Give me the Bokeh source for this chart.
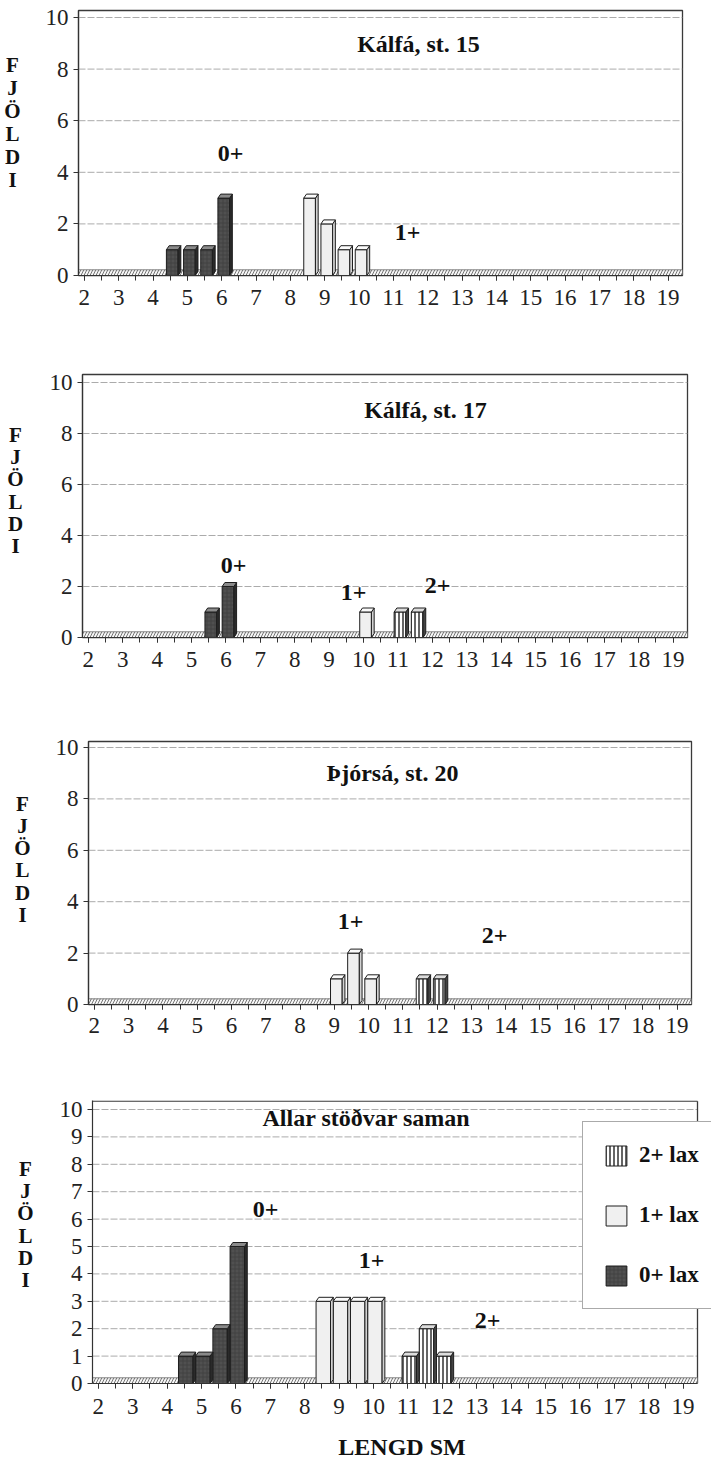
import numpy as np
from bokeh.plotting import figure
from bokeh.models import Range1d, FixedTicker, Label, Legend, LegendItem
from bokeh.layouts import column, row
from bokeh.embed import file_html
from bokeh.resources import INLINE
from bokeh.core.properties import value

# ---------------- data ----------------
x_tick_values = list(range(2, 20))
x_tick_labels = [str(v) for v in x_tick_values]
x_minor_values = [2 + 0.5 * i for i in range(35)]
y_ticks_station = [0, 2, 4, 6, 8, 10]
y_ticks_all = [0, 1, 2, 3, 4, 5, 6, 7, 8, 9, 10]

# Kálfá, st. 15
st15_len_0 = [4.5, 5.0, 5.5, 6.0]
st15_cnt_0 = [1, 1, 1, 3]
st15_len_1 = [8.5, 9.0, 9.5, 10.0]
st15_cnt_1 = [3, 2, 1, 1]
st15_len_2 = []
st15_cnt_2 = []

# Kálfá, st. 17
st17_len_0 = [5.5, 6.0]
st17_cnt_0 = [1, 2]
st17_len_1 = [10.0]
st17_cnt_1 = [1]
st17_len_2 = [11.0, 11.5]
st17_cnt_2 = [1, 1]

# Þjórsá, st. 20
st20_len_0 = []
st20_cnt_0 = []
st20_len_1 = [9.0, 9.5, 10.0]
st20_cnt_1 = [1, 2, 1]
st20_len_2 = [11.5, 12.0]
st20_cnt_2 = [1, 1]

# Allar stöðvar saman
all_len_0 = [4.5, 5.0, 5.5, 6.0]
all_cnt_0 = [1, 1, 2, 5]
all_len_1 = [8.5, 9.0, 9.5, 10.0]
all_cnt_1 = [3, 3, 3, 3]
all_len_2 = [11.0, 11.5, 12.0]
all_cnt_2 = [1, 2, 1]

titles = ["Kálfá, st. 15", "Kálfá,  st. 17", "Þjórsá,  st. 20", "Allar stöðvar saman"]
legend_labels = ["2+ lax", "1+ lax", "0+ lax"]
y_letters = ["F", "J", "Ö", "L", "D", "I"]
x_title = "LENGD SM"

# ---------------- layout / style ----------------
FONT = "Liberation Serif"
X0, X1 = 1.83, 19.42
PAGE_W = 711
LW = 36  # width of the strip holding the stacked y label

STYLE = {
    0: dict(front="#505050", side="#2a2a2a", top="#8a8a8a", hatch="+", hatch_color="#3c3c3c"),
    1: dict(front="#f0f0f0", side="#d2d2d2", top="#fbfbfb", hatch=None, hatch_color=None),
    2: dict(front="#ffffff", side="#444444", top="#dddddd", hatch="|", hatch_color="#111111"),
}

panels = [
    dict(fig_top=8, height=350, left=86, right=690, ftop=18, y0=283, y10=25,
         ticks=y_ticks_station,
         data=[(st15_len_0, st15_cnt_0), (st15_len_1, st15_cnt_1), (st15_len_2, st15_cnt_2)],
         title=titles[0], title_pos=(426, 51),
         ages=[("0+", 238, 161), ("1+", 415, 240)],
         letters_x=20, letters_y=(80, 232), fw=0.34, off=0.06, standoff=9),
    dict(fig_top=358, height=364, left=90, right=695, ftop=382, y0=645, y10=390,
         ticks=y_ticks_station,
         data=[(st17_len_0, st17_cnt_0), (st17_len_1, st17_cnt_1), (st17_len_2, st17_cnt_2)],
         title=titles[1], title_pos=(436, 417),
         ages=[("0+", 241, 573), ("1+", 361, 600), ("2+", 445, 593)],
         letters_x=23, letters_y=(442, 595), fw=0.34, off=0.06, standoff=9),
    dict(fig_top=722, height=364, left=96, right=699, ftop=749, y0=1012, y10=755,
         ticks=y_ticks_station,
         data=[(st20_len_0, st20_cnt_0), (st20_len_1, st20_cnt_1), (st20_len_2, st20_cnt_2)],
         title=titles[2], title_pos=(403, 780),
         ages=[("1+", 358, 929), ("2+", 502, 943)],
         letters_x=30, letters_y=(808, 962), fw=0.34, off=0.06, standoff=8),
    dict(fig_top=1086, height=388, left=100, right=705, ftop=1108, y0=1391, y10=1117,
         ticks=y_ticks_all,
         data=[(all_len_0, all_cnt_0), (all_len_1, all_cnt_1), (all_len_2, all_cnt_2)],
         title=titles[3], title_pos=(374, 1125),
         ages=[("0+", 273, 1217), ("1+", 379, 1268), ("2+", 495, 1328)],
         letters_x=33, letters_y=(1180, 1332), fw=0.42, off=0.04, standoff=10,
         legend=True),
]


def letters_fig(g):
    lf = figure(width=LW, height=g["height"], output_backend="svg", toolbar_location=None,
                x_range=Range1d(8, 8 + LW),
                y_range=Range1d(g["fig_top"] + g["height"], g["fig_top"]),
                x_axis_location=None, y_axis_location=None, min_border=0)
    lf.outline_line_color = None
    lf.background_fill_color = "white"
    lf.border_fill_color = "white"
    lf.xgrid.visible = False
    lf.ygrid.visible = False
    ly0, ly1 = g["letters_y"]
    step = (ly1 - ly0) / (len(y_letters) - 1)
    ys = [ly0 + step * i for i in range(len(y_letters))]
    lf.text(x=[g["letters_x"]] * len(y_letters), y=ys, text=y_letters,
            text_font=value(FONT), text_font_style="bold", text_font_size="21px",
            text_align="center", text_baseline="middle", text_color="#111111")
    return lf


def make_panel(g):
    unit = (g["y0"] - g["y10"]) / 10.0
    y_end = (g["y0"] - g["ftop"]) / unit
    fig_bottom = g["fig_top"] + g["height"]
    pxu = (g["right"] - g["left"]) / (X1 - X0)
    extend = g.get("legend", False)
    frame_right = 8 + PAGE_W if extend else g["right"]
    x_end = X1 + (frame_right - g["right"]) / pxu
    p = figure(width=PAGE_W - LW, height=g["height"], output_backend="svg", toolbar_location=None,
               x_range=Range1d(X0, x_end), y_range=Range1d(0, y_end),
               min_border_left=g["left"] - 8 - LW, min_border_right=8 + PAGE_W - frame_right,
               min_border_top=g["ftop"] - g["fig_top"], min_border_bottom=fig_bottom - g["y0"])
    p.background_fill_color = "white"
    p.border_fill_color = "white"
    p.xgrid.visible = False
    p.ygrid.visible = False

    def px2x(px):
        return X0 + (px - g["left"]) / pxu

    def px2y(py):
        return (g["y0"] - py) / unit

    # grid lines (drawn as glyphs so they stop at the back wall)
    gy = [t for t in g["ticks"] if t > 0]
    p.segment(x0=[X0] * len(gy), x1=[X1] * len(gy), y0=gy, y1=gy,
              line_color="#ababab", line_dash="7 2", line_width=1)

    # frame (back wall) edges
    if extend:
        p.outline_line_color = None
        top_y = y_end - 0.7 / unit
        p.segment(x0=[X0, X1], x1=[X1, X1], y0=[top_y, 0], y1=[top_y, top_y],
                  line_color="#3a3a3a", line_width=1.3)
    else:
        p.outline_line_color = "#3a3a3a"
        p.outline_line_width = 1.3

    # axes
    xa = p.xaxis[0]
    xa.ticker = FixedTicker(ticks=x_tick_values, minor_ticks=x_minor_values)
    xa.major_label_overrides = {v: s for v, s in zip(x_tick_values, x_tick_labels)}
    xa.bounds = (X0, X1)
    ya = p.yaxis[0]
    ya.ticker = FixedTicker(ticks=g["ticks"], minor_ticks=[])
    for ax in (xa, ya):
        ax.axis_line_color = "#333333"
        ax.axis_line_width = 1.2
        ax.major_tick_line_color = "#333333"
        ax.minor_tick_line_color = "#333333"
        ax.major_tick_in = 0
        ax.major_tick_out = 5
        ax.minor_tick_in = 0
        ax.minor_tick_out = 5
        ax.major_label_text_font = FONT
        ax.major_label_text_font_size = "23px"
        ax.major_label_text_color = "#222222"
    xa.major_label_standoff = g["standoff"]
    ya.major_label_standoff = 5

    # floor
    dy = 4.0 / unit
    p.quad(left=X0, right=X1, bottom=0, top=5.7 / unit, fill_color="#f6f6f6",
           line_color="#666666", line_width=0.8, hatch_pattern="/", hatch_color="#666666",
           hatch_scale=6, hatch_weight=0.9)

    dx = 0.08
    front_renderers = {}
    for age, (lens, cnts) in enumerate(g["data"]):
        if len(lens) == 0:
            continue
        st = STYLE[age]
        xs = np.asarray(lens, float)
        hs = np.asarray(cnts, float)
        left = xs + g["off"] - g["fw"] / 2
        right = xs + g["off"] + g["fw"] / 2
        kw = dict(fill_color=st["front"], line_color="#1e1e1e", line_width=1)
        if st["hatch"]:
            kw.update(hatch_pattern=st["hatch"], hatch_color=st["hatch_color"],
                      hatch_scale=4, hatch_weight=1.3 if age == 2 else 0.7)
        r = p.quad(left=left, right=right, bottom=0, top=hs, **kw)
        front_renderers[age] = r
        side_xs = [[rr, rr + dx, rr + dx, rr] for rr in right]
        side_ys = [[0, dy, h + dy, h] for h in hs]
        p.patches(side_xs, side_ys, fill_color=st["side"], line_color="#1e1e1e", line_width=1)
        top_xs = [[l, rr, rr + dx, l + dx] for l, rr in zip(left, right)]
        top_ys = [[h, h, h + dy, h + dy] for h in hs]
        p.patches(top_xs, top_ys, fill_color=st["top"], line_color="#1e1e1e", line_width=1)

    # title + age labels
    p.add_layout(Label(x=px2x(g["title_pos"][0]), y=px2y(g["title_pos"][1]), text=g["title"],
                       text_font=FONT, text_font_style="bold", text_font_size="24px",
                       text_align="center", text_baseline="middle", text_color="#111111"))
    for txt, ax_, ay_ in g["ages"]:
        p.add_layout(Label(x=px2x(ax_), y=px2y(ay_), text=txt, text_font=FONT,
                           text_font_style="bold", text_font_size="24px",
                           text_align="center", text_baseline="middle", text_color="#111111"))

    if extend:
        xa.axis_label = x_title
        xa.axis_label_text_font = FONT
        xa.axis_label_text_font_style = "bold"
        xa.axis_label_text_font_size = "24px"
        xa.axis_label_text_color = "#111111"
        xa.axis_label_standoff = 17
        items = [LegendItem(label=legend_labels[0], renderers=[front_renderers[2]]),
                 LegendItem(label=legend_labels[1], renderers=[front_renderers[1]]),
                 LegendItem(label=legend_labels[2], renderers=[front_renderers[0]])]
        lg = Legend(items=items, location=(490, 74))
        lg.border_line_color = "#555555"
        lg.border_line_width = 1.2
        lg.background_fill_color = "white"
        lg.background_fill_alpha = 1.0
        lg.label_text_font = FONT
        lg.label_text_font_style = "bold"
        lg.label_text_font_size = "23px"
        lg.label_text_color = "#111111"
        lg.glyph_width = 26
        lg.glyph_height = 25
        lg.label_height = 25
        lg.spacing = 34
        lg.padding = 20
        lg.margin = 0
        lg.label_standoff = 10
        p.add_layout(lg)
    return p


rows = [row(letters_fig(g), make_panel(g), spacing=0) for g in panels]
layout = column(*rows, spacing=0)
open("out.html", "w").write(file_html(layout, INLINE))
